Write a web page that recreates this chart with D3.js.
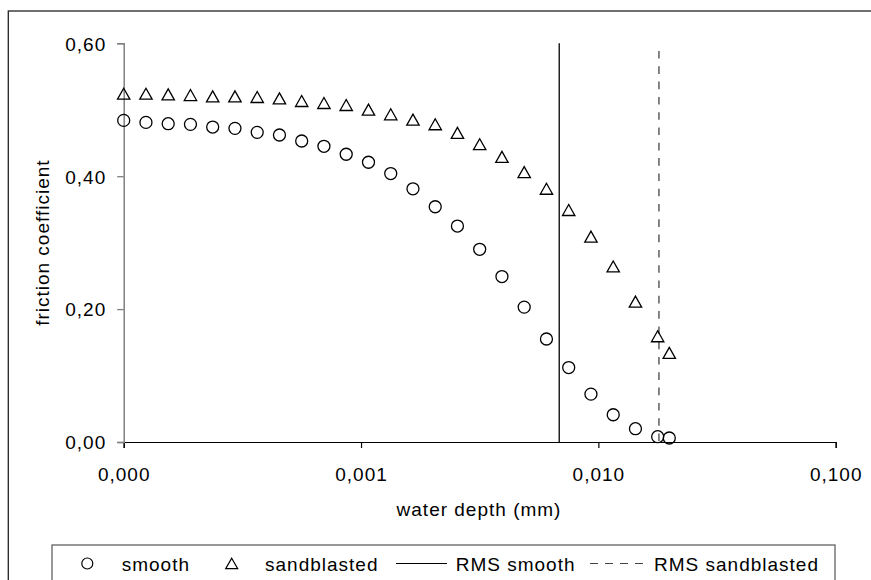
<!DOCTYPE html>
<html>
<head>
<meta charset="utf-8">
<script src="https://cdn.jsdelivr.net/npm/d3@7/dist/d3.min.js"></script>
<style>
  html, body { margin: 0; padding: 0; background: #fff; }
  svg text { font-family: "Liberation Sans", Arial, sans-serif; fill: #000; }
</style>
</head>
<body>
<svg id="chart" width="871" height="580"></svg>
<script>
// ---- data ----
const depth = [0.0001, 0.0001241, 0.0001540, 0.0001911, 0.0002371, 0.0002943, 0.0003652, 0.0004532,
  0.0005623, 0.0006978, 0.000866, 0.001075, 0.001334, 0.001655, 0.002054, 0.002548, 0.003162,
  0.003924, 0.00487, 0.006043, 0.007499, 0.009306, 0.01155, 0.01433, 0.01778, 0.0199];
const smooth = [0.484, 0.481, 0.479, 0.478, 0.474, 0.472, 0.466, 0.462, 0.453, 0.445, 0.433, 0.421,
  0.404, 0.381, 0.354, 0.325, 0.290, 0.249, 0.203, 0.155, 0.112, 0.072, 0.041, 0.020, 0.008, 0.006];
const sandblasted = [0.524, 0.524, 0.523, 0.522, 0.520, 0.520, 0.519, 0.517, 0.513, 0.510, 0.507, 0.500,
  0.493, 0.485, 0.478, 0.465, 0.448, 0.429, 0.406, 0.381, 0.349, 0.309, 0.264, 0.211, 0.159, 0.134];
const rmsSmooth = 0.00684;
const rmsSandblasted = 0.0180;
const xTicks = [0.0001, 0.001, 0.01, 0.1];
const yTicks = [0, 0.2, 0.4, 0.6];
const xTitle = "water depth (mm)";
const yTitle = "friction coefficient";
const legendLabels = ["smooth", "sandblasted", "RMS smooth", "RMS sandblasted"];

// ---- layout ----
const svg = d3.select("#chart");
const FS = 19, LS = 1;
const x = d3.scaleLog().domain([0.0001, 0.1]).range([123.7, 835.7]);
const y = d3.scaleLinear().domain([0, 0.6]).range([442, 43.3]);
const comma = f => s => d3.format(f)(s).replace(".", ",");

// outer frame
svg.append("rect").attr("x", 8.3).attr("y", 11).attr("width", 900).attr("height", 600)
  .attr("fill", "none").attr("stroke", "#222").attr("stroke-width", 1.3);

// vertical RMS lines
svg.append("line").attr("x1", x(rmsSmooth)).attr("x2", x(rmsSmooth))
  .attr("y1", y(0.6)).attr("y2", y(0)).attr("stroke", "#000").attr("stroke-width", 1.3);
svg.append("line").attr("x1", x(rmsSandblasted)).attr("x2", x(rmsSandblasted))
  .attr("y1", y(0.6)).attr("y2", y(0)).attr("stroke", "#444").attr("stroke-width", 1.3)
  .attr("stroke-dasharray", "7.6,7.7").attr("stroke-dashoffset", 7.6);

// x axis
const xAxis = d3.axisBottom(x).tickValues(xTicks).tickFormat(comma(".3f")).tickSize(6).tickPadding(0);
const gx = svg.append("g").attr("transform", `translate(0,${y(0)})`).call(xAxis);
gx.select(".domain").attr("stroke", "#000").attr("stroke-width", 1.2);
gx.selectAll(".tick line").attr("stroke", "#000").attr("stroke-width", 1.2);
gx.selectAll(".tick text").attr("font-size", FS).attr("letter-spacing", LS)
  .attr("y", 39).attr("dy", 0).attr("font-family", "Liberation Sans, Arial, sans-serif");

// y axis
const yAxis = d3.axisLeft(y).tickValues(yTicks).tickFormat(comma(".2f")).tickSize(6.5).tickPadding(0);
const gy = svg.append("g").attr("transform", `translate(${x(0.0001)},0)`).call(yAxis);
gy.select(".domain").attr("stroke", "#808080").attr("stroke-width", 1.5);
gy.selectAll(".tick line").attr("stroke", "#808080").attr("stroke-width", 1.3);
gy.selectAll(".tick text").attr("font-size", FS).attr("letter-spacing", LS)
  .attr("x", -17.5).attr("dy", "0.36em").attr("font-family", "Liberation Sans, Arial, sans-serif");
svg.selectAll(".domain").attr("fill", "none");

// axis titles
svg.append("text").attr("x", 479).attr("y", 516).attr("text-anchor", "middle")
  .attr("font-size", FS).attr("letter-spacing", LS).text(xTitle);
svg.append("text").attr("transform", `translate(49,${(y(0) + y(0.6)) / 2}) rotate(-90)`)
  .attr("text-anchor", "middle").attr("font-size", FS).attr("letter-spacing", LS).text(yTitle);

// markers
const triPath = "M0,-5.6L6.2,5.4L-6.2,5.4Z";
svg.append("g").selectAll("circle").data(depth.map((d, i) => [d, smooth[i]])).join("circle")
  .attr("cx", d => x(d[0])).attr("cy", d => y(d[1])).attr("r", 6)
  .attr("fill", "none").attr("stroke", "#000").attr("stroke-width", 1.3);
svg.append("g").selectAll("path").data(depth.map((d, i) => [d, sandblasted[i]])).join("path")
  .attr("d", triPath).attr("transform", d => `translate(${x(d[0])},${y(d[1])})`)
  .attr("fill", "none").attr("stroke", "#000").attr("stroke-width", 1.3).attr("stroke-linejoin", "miter");

// legend
const lg = svg.append("g");
lg.append("rect").attr("x", 52).attr("y", 545).attr("width", 783).attr("height", 60)
  .attr("fill", "#fff").attr("stroke", "#555").attr("stroke-width", 1.2);
const ly = 563.5, lty = 570.5;
lg.append("circle").attr("cx", 87.3).attr("cy", ly).attr("r", 5.5)
  .attr("fill", "none").attr("stroke", "#000").attr("stroke-width", 1.2);
lg.append("path").attr("d", "M0,-5.3L6,5.2L-6,5.2Z").attr("transform", `translate(231.7,${ly})`)
  .attr("fill", "none").attr("stroke", "#000").attr("stroke-width", 1.2);
lg.append("line").attr("x1", 396).attr("x2", 447).attr("y1", ly).attr("y2", ly)
  .attr("stroke", "#000").attr("stroke-width", 1.2);
lg.append("line").attr("x1", 590).attr("x2", 645).attr("y1", ly).attr("y2", ly)
  .attr("stroke", "#444").attr("stroke-width", 1.2).attr("stroke-dasharray", "8,7");
const lx = [121.7, 265, 455.7, 654];
lg.selectAll("text.lab").data(legendLabels).join("text").attr("class", "lab")
  .attr("x", (d, i) => lx[i]).attr("y", lty).attr("font-size", FS).attr("letter-spacing", LS)
  .text(d => d);
</script>
</body>
</html>
